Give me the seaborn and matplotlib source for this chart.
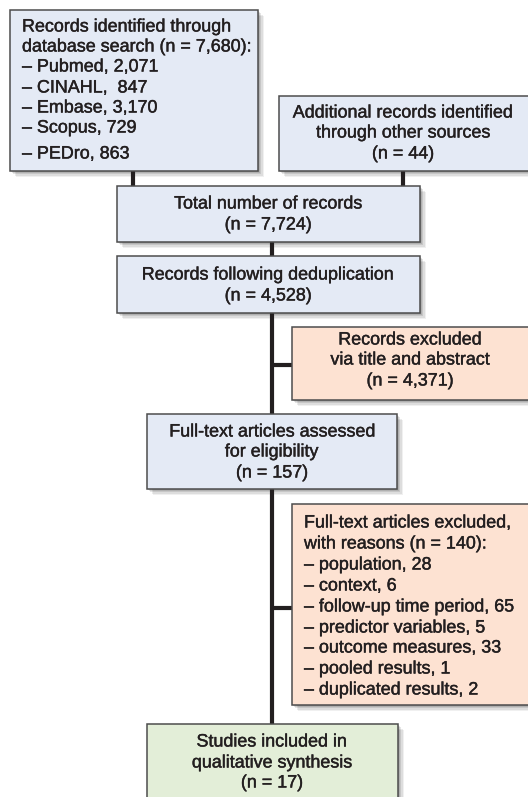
import matplotlib
matplotlib.use("Agg")
import matplotlib.pyplot as plt
from matplotlib.patches import Rectangle
import matplotlib.patheffects as pe
import seaborn as sns

# ---------------- data ----------------
db_total = 7680
db_sources = ["Pubmed", "CINAHL", "Embase", "Scopus", "PEDro"]
db_counts = [2071, 847, 3170, 729, 863]
other_sources = 44
total_records = 7724
after_dedup = 4528
excluded_title_abstract = 4371
fulltext_assessed = 157
fulltext_excluded = 140
exclusion_reasons = ["population", "context", "follow-up time period",
                     "predictor variables", "outcome measures",
                     "pooled results", "duplicated results"]
exclusion_counts = [28, 6, 65, 5, 33, 1, 2]
included = 17

# ---------------- style ----------------
sns.set_theme(style="white")
plt.rcParams['font.family'] = ['Liberation Sans', 'DejaVu Sans']

BLUE = "#E4EAF5"
ORANGE = "#FDE2D2"
GREEN = "#E3EED8"
EDGE = "#4d4d4d"
INK = "#231F20"
FS = 12.9

W, H = 528, 797
fig = plt.figure(figsize=(W / 100, H / 100), dpi=100)
ax = fig.add_axes([0, 0, 1, 1])
ax.set_xlim(0, W)
ax.set_ylim(H, 0)
ax.axis("off")


def box(x0, y0, x1, y1, color):
    # soft drop shadow
    for i, a in enumerate([0.10, 0.10, 0.10, 0.08, 0.06]):
        off = 1 + i * 1.2
        ax.add_patch(Rectangle((x0 + off, y0 + off), x1 - x0, y1 - y0,
                               facecolor="#000000", alpha=a, lw=0, zorder=1))
    ax.add_patch(Rectangle((x0, y0), x1 - x0, y1 - y0, facecolor=color,
                           edgecolor=EDGE, lw=1.1, zorder=3))


def lines(x, ys, texts, ha="center"):
    for y, t in zip(ys, texts):
        ax.text(x, y, t, ha=ha, va="center", fontsize=FS, color=INK, zorder=4,
                path_effects=[pe.withStroke(linewidth=0.3, foreground=INK)])


def connector(xs, ys):
    ax.plot(xs, ys, color=INK, lw=3.0, solid_capstyle="butt", zorder=2)


# connectors
connector([133, 133], [171, 187])
connector([403, 403], [171, 187])
connector([272, 272], [242, 257])
connector([272, 272], [313, 725])
connector([272, 293], [365, 365])
connector([272, 293], [608, 608])

# box A: database search
box(10, 10, 258, 171, BLUE)
textA = ["Records identified through",
         f"database search (n = {db_total:,}):"] + \
        [f"– {s}, {' ' if s == 'CINAHL' else ''}{c:,}"
         for s, c in zip(db_sources, db_counts)]
lines(22, [27, 47, 67, 88, 108, 128, 154], textA, ha="left")

# box B: other sources
box(279, 96, 532, 171, BLUE)
lines(403, [113, 133, 154], ["Additional records identified",
                             "through other sources",
                             f"(n = {other_sources})"])

# total
box(117, 186, 420, 242, BLUE)
lines(268, [204, 225], ["Total number of records", f"(n = {total_records:,})"])

# dedup
box(117, 256, 420, 313, BLUE)
lines(268, [275, 296], ["Records following deduplication",
                        f"(n = {after_dedup:,})"])

# excluded title/abstract
box(292, 327, 532, 400, ORANGE)
lines(410, [340, 360, 381], ["Records excluded", "via title and abstract",
                             f"(n = {excluded_title_abstract:,})"])

# full-text assessed
box(147, 414, 397, 489, BLUE)
lines(272, [432, 452, 473], ["Full-text articles assessed", "for eligibility",
                             f"(n = {fulltext_assessed})"])

# full-text excluded
box(292, 504, 532, 705, ORANGE)
textE = ["Full-text articles excluded,",
         f"with reasons (n = {fulltext_excluded}):"] + \
        [f"– {r}, {c}" for r, c in zip(exclusion_reasons, exclusion_counts)]
lines(304, [523, 544, 565, 586, 607, 628, 648, 669, 690], textE, ha="left")

# included
box(147, 724, 398, 810, GREEN)
lines(272, [742, 763, 783], ["Studies included in", "qualitative synthesis",
                             f"(n = {included})"])

fig.savefig("out.png", dpi=100)
